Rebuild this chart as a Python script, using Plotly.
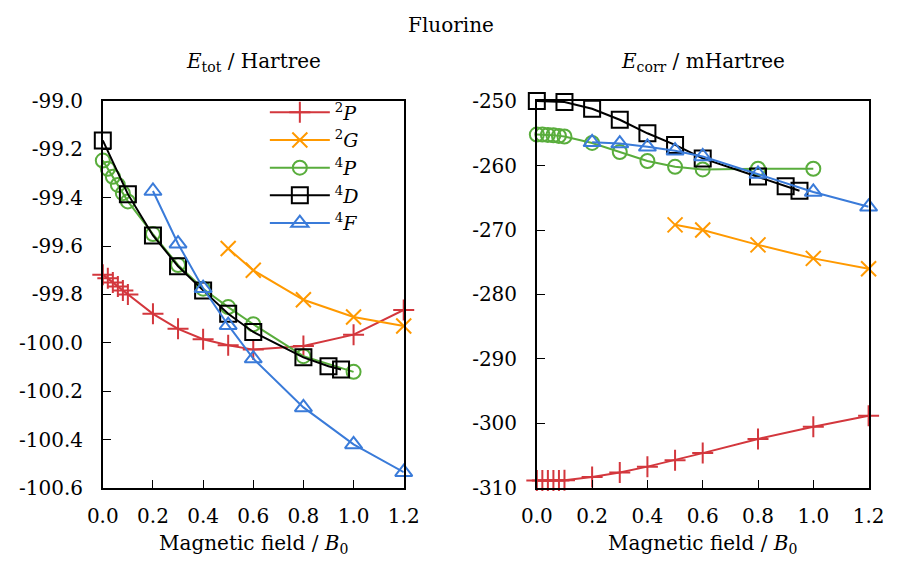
import plotly.graph_objects as go

# ---------------- data ----------------
B_dense = [0.0, 0.02, 0.04, 0.06, 0.08, 0.1]

# Left panel: total energy (Hartree)
P2_B = B_dense + [0.2, 0.3, 0.4, 0.5, 0.6, 0.8, 1.0, 1.2]
P2_tot = [-99.718, -99.733, -99.750, -99.767, -99.783, -99.800,
          -99.880, -99.942, -99.985, -100.010, -100.028, -100.013, -99.966, -99.864]
G2_B = [0.5, 0.6, 0.8, 1.0, 1.2]
G2_tot = [-99.610, -99.700, -99.822, -99.893, -99.930]
P4_B = B_dense + [0.2, 0.3, 0.4, 0.5, 0.6, 0.8, 1.0]
P4_tot = [-99.246, -99.280, -99.313, -99.347, -99.381, -99.415,
          -99.550, -99.678, -99.776, -99.852, -99.923, -100.055, -100.120]
D4_B = [0.0, 0.1, 0.2, 0.3, 0.4, 0.5, 0.6, 0.8, 0.9, 0.95]
D4_tot = [-99.163, -99.385, -99.556, -99.683, -99.783, -99.880, -99.955, -100.060, -100.097, -100.110]
F4_B = [0.2, 0.3, 0.4, 0.5, 0.6, 0.8, 1.0, 1.2]
F4_tot = [-99.372, -99.590, -99.774, -99.927, -100.065, -100.267, -100.420, -100.535]

# Right panel: correlation energy (mHartree)
P2_corr = [-308.85, -308.85, -308.85, -308.85, -308.85, -308.8,
           -308.3, -307.6, -306.7, -305.7, -304.6, -302.4, -300.5, -298.8]
G2_corr = [-269.2, -270.0, -272.3, -274.4, -276.0]
P4_corr = [-255.2, -255.2, -255.25, -255.3, -255.4, -255.5,
           -256.5, -257.9, -259.3, -260.2, -260.6, -260.5, -260.5]
D4_corr = [-250.0, -250.15, -251.2, -252.9, -255.0, -256.8, -258.9, -261.7, -263.2, -263.9]
F4_corr = [-256.4, -256.6, -257.1, -257.7, -258.6, -261.3, -264.1, -266.4]

names = ["<sup>2</sup><i>P</i>", "<sup>2</sup><i>G</i>", "<sup>4</sup><i>P</i>",
         "<sup>4</sup><i>D</i>", "<sup>4</sup><i>F</i>"]
colors = ["#d3373d", "#ff9900", "#59ad3c", "#000000", "#3a7bd9"]
symbols = ["cross-thin-open", "x-thin-open", "circle-open", "square-open", "triangle-up-open"]
sizes = [15, 15, 14, 16, 15]

left_ticks = [-99.0, -99.2, -99.4, -99.6, -99.8, -100.0, -100.2, -100.4, -100.6]
left_ticktext = ["-99.0", "-99.2", "-99.4", "-99.6", "-99.8", "-100.0", "-100.2", "-100.4", "-100.6"]
right_ticks = [-250, -260, -270, -280, -290, -300, -310]
right_ticktext = ["-250", "-260", "-270", "-280", "-290", "-300", "-310"]
x_ticks = [0.0, 0.2, 0.4, 0.6, 0.8, 1.0, 1.2]
x_ticktext = ["0.0", "0.2", "0.4", "0.6", "0.8", "1.0", "1.2"]

series = [
    (P2_B, P2_tot, P2_corr),
    (G2_B, G2_tot, G2_corr),
    (P4_B, P4_tot, P4_corr),
    (D4_B, D4_tot, D4_corr),
    (F4_B, F4_tot, F4_corr),
]

FONT = "DejaVu Serif"
FS = 20

fig = go.Figure()
for i, (bx, ytot, ycorr) in enumerate(series):
    mk = dict(symbol=symbols[i], size=sizes[i], color=colors[i],
              line=dict(color=colors[i], width=2))
    fig.add_trace(go.Scatter(x=bx, y=ytot, mode="lines+markers", name=names[i],
                             line=dict(color=colors[i], width=2), marker=mk,
                             cliponaxis=False, xaxis="x", yaxis="y"))
    fig.add_trace(go.Scatter(x=bx, y=ycorr, mode="lines+markers", name=names[i],
                             line=dict(color=colors[i], width=2), marker=mk,
                             showlegend=False, cliponaxis=False, xaxis="x2", yaxis="y2"))

W, H = 901, 566
ydom = [1 - 497 / H, 1 - 93 / H]
axis_common = dict(showgrid=False, zeroline=False, showline=True, linecolor="black",
                   linewidth=1.5, mirror=True, ticks="inside", ticklen=8,
                   tickcolor="black", tickwidth=1.2,
                   tickfont=dict(family=FONT, size=FS, color="black"))

fig.update_layout(
    width=W, height=H,
    margin=dict(l=0, r=0, t=0, b=0),
    paper_bgcolor="white", plot_bgcolor="white",
    font=dict(family=FONT, size=FS, color="black"),
    xaxis=dict(domain=[90 / W, 402 / W], range=[0, 1.2], tickvals=x_ticks,
               ticktext=x_ticktext, anchor="y", ticklabelstandoff=9, **axis_common),
    yaxis=dict(domain=ydom, range=[-100.6, -99.0], tickvals=left_ticks,
               ticktext=left_ticktext, anchor="x", ticklabelstandoff=14, **axis_common),
    xaxis2=dict(domain=[540 / W, 884 / W], range=[0, 1.2], tickvals=x_ticks,
                ticktext=x_ticktext, anchor="y2", ticklabelstandoff=9, **axis_common),
    yaxis2=dict(domain=ydom, range=[-310, -250], tickvals=right_ticks,
                ticktext=right_ticktext, anchor="x2", ticklabelstandoff=14, **axis_common),
    legend=dict(x=258 / W, y=1 - 85 / H, xanchor="left", yanchor="top",
                bgcolor="rgba(0,0,0,0)", borderwidth=0, itemwidth=60,
                tracegroupgap=0, font=dict(family=FONT, size=19)),
    showlegend=True,
)

annots = [
    dict(text="Fluorine", x=0.5, y=1 - 14 / H),
    dict(text="<i>E</i><sub>tot</sub> / Hartree", x=246 / W, y=1 - 52 / H),
    dict(text="<i>E</i><sub>corr</sub> / mHartree", x=712 / W, y=1 - 52 / H),
    dict(text="Magnetic field / <i>B</i><sub>0</sub>", x=246 / W, y=1 - 556 / H),
    dict(text="Magnetic field / <i>B</i><sub>0</sub>", x=712 / W, y=1 - 556 / H),
]
for a in annots:
    fig.add_annotation(text=a["text"], x=a["x"], y=a["y"], xref="paper", yref="paper",
                       xanchor="center", yanchor="middle", showarrow=False,
                       font=dict(family=FONT, size=FS, color="black"))

fig.write_html("out.html")
